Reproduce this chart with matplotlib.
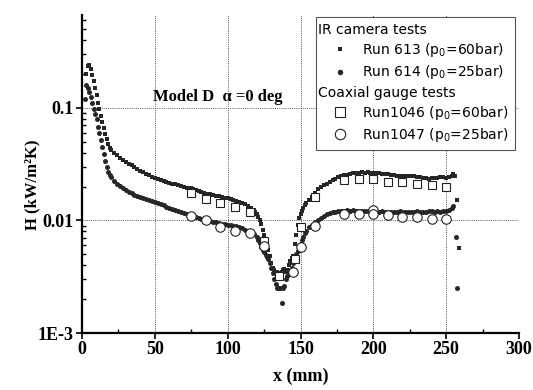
import matplotlib
matplotlib.use("Agg")
import matplotlib.pyplot as plt
from matplotlib.ticker import FixedLocator, LogLocator, NullFormatter, FixedFormatter

# ---------------- data ----------------
# IR camera, Run 613 (p0 = 60 bar)
x613 = [3, 4, 5, 6, 7, 8, 9, 10, 11, 12,
        13, 14, 15, 16, 17, 18, 19, 20, 22, 24,
        26, 28, 30, 32, 34, 36, 38, 40, 42, 44,
        46, 48, 50, 52, 54, 56, 58, 60, 62, 64,
        66, 68, 70, 72, 74, 75, 76, 78, 80, 82,
        84, 86, 88, 90, 92, 94, 96, 98, 100, 102,
        104, 106, 108, 110, 112, 114, 116, 118, 119, 120,
        121, 122, 123, 124, 125, 126, 127, 128, 129, 130,
        131, 132, 133, 134, 135, 136, 137, 138, 139, 140,
        141, 142, 143, 144, 145, 146, 147, 148, 149, 150,
        151, 152, 153, 154, 156, 158, 160, 162, 164, 166,
        168, 170, 172, 174, 176, 178, 180, 182, 184, 186,
        188, 190, 192, 194, 196, 198, 200, 202, 204, 206,
        208, 210, 212, 214, 216, 218, 220, 222, 224, 226,
        228, 230, 232, 234, 236, 238, 240, 242, 244, 246,
        248, 250, 252, 254, 255, 256, 257.5, 258.5]
h613 = [0.20, 0.235, 0.24, 0.22, 0.195, 0.175, 0.15, 0.13, 0.11, 0.098,
        0.085, 0.075, 0.066, 0.059, 0.053, 0.048, 0.044, 0.042, 0.040, 0.038,
        0.036, 0.0345, 0.033, 0.032, 0.031, 0.0298, 0.0285, 0.0275, 0.0267, 0.026,
        0.0252, 0.0245, 0.0238, 0.0233, 0.0228, 0.0224, 0.022, 0.0216, 0.0213, 0.021,
        0.0206, 0.0202, 0.0198, 0.0195, 0.0194, 0.0196, 0.0192, 0.0186, 0.0182, 0.0179,
        0.0176, 0.0173, 0.0171, 0.0168, 0.0166, 0.0164, 0.0162, 0.016, 0.0157, 0.0155,
        0.0152, 0.015, 0.0147, 0.0143, 0.014, 0.0135, 0.0129, 0.0124, 0.0120, 0.0115,
        0.0108, 0.0100, 0.0094, 0.0083, 0.0074, 0.0067, 0.0061, 0.0055, 0.0048, 0.0042,
        0.0038, 0.0036, 0.0035, 0.0035, 0.0034, 0.0034, 0.0035, 0.0036, 0.0037, 0.0035,
        0.0036, 0.0040, 0.0044, 0.0046, 0.0048, 0.0062, 0.0075, 0.0092, 0.0105, 0.0115,
        0.0122, 0.0130, 0.0137, 0.0143, 0.0152, 0.0163, 0.0175, 0.0190, 0.0197, 0.0205,
        0.0213, 0.0220, 0.0228, 0.0236, 0.0243, 0.0248, 0.0252, 0.0256, 0.0260, 0.0262,
        0.0264, 0.0266, 0.0267, 0.0266, 0.0267, 0.0265, 0.0266, 0.0265, 0.0263, 0.0261,
        0.0259, 0.0257, 0.0254, 0.0252, 0.0250, 0.0249, 0.0248, 0.0248, 0.0249, 0.0248,
        0.0246, 0.0244, 0.0241, 0.0239, 0.0237, 0.0236, 0.0237, 0.0238, 0.0240, 0.0242,
        0.0241, 0.0240, 0.0243, 0.0250, 0.0258, 0.0248, 0.0152, 0.0057]

# IR camera, Run 614 (p0 = 25 bar)
x614 = [2, 3, 4, 5, 6, 7, 8, 9, 10, 11,
        12, 13, 14, 15, 16, 17, 18, 19, 20, 22,
        24, 26, 28, 30, 32, 34, 36, 38, 40, 42,
        44, 46, 48, 50, 52, 54, 56, 58, 60, 62,
        64, 66, 68, 70, 72, 74, 75, 76, 78, 80,
        82, 84, 86, 88, 90, 92, 94, 96, 98, 100,
        102, 104, 106, 108, 110, 112, 114, 116, 118, 120,
        121, 122, 123, 124, 125, 126, 127, 128, 129, 130,
        131, 132, 133, 134, 135, 136, 137, 138, 139, 140,
        141, 142, 143, 144, 145, 146, 147, 148, 149, 150,
        151, 152, 153, 154, 156, 158, 160, 162, 164, 166,
        168, 170, 172, 174, 176, 178, 180, 182, 184, 186,
        188, 190, 192, 194, 196, 198, 200, 202, 204, 206,
        208, 210, 212, 214, 216, 218, 220, 222, 224, 226,
        228, 230, 232, 234, 236, 238, 240, 242, 244, 246,
        248, 250, 252, 254, 255, 257, 257.5]
h614 = [0.12, 0.16, 0.15, 0.14, 0.125, 0.11, 0.098, 0.088, 0.079, 0.068,
        0.060, 0.052, 0.045, 0.039, 0.034, 0.030, 0.027, 0.0252, 0.0242, 0.0225,
        0.0213, 0.0203, 0.0194, 0.0187, 0.0180, 0.0175, 0.0170, 0.0165, 0.0161, 0.0157,
        0.0154, 0.0151, 0.0148, 0.0145, 0.0142, 0.0139, 0.0136, 0.0133, 0.0130, 0.0127,
        0.0124, 0.0121, 0.0118, 0.0116, 0.0114, 0.0113, 0.0115, 0.0111, 0.0108, 0.0106,
        0.0104, 0.0102, 0.0100, 0.0099, 0.0097, 0.0096, 0.0095, 0.0094, 0.0093, 0.0092,
        0.0091, 0.0090, 0.0089, 0.0087, 0.0085, 0.0083, 0.0080, 0.0078, 0.0076, 0.0072,
        0.0067, 0.0063, 0.0058, 0.0055, 0.0052, 0.0049, 0.0047, 0.0045, 0.0042, 0.0038,
        0.0034, 0.0030, 0.0027, 0.0025, 0.0025, 0.0025, 0.00185, 0.0025, 0.0026, 0.0030,
        0.0032, 0.0034, 0.0036, 0.0038, 0.0042, 0.0046, 0.0050, 0.0054, 0.0058, 0.0062,
        0.0067, 0.0072, 0.0077, 0.0081, 0.0087, 0.0092, 0.0097, 0.0102, 0.0106, 0.0110,
        0.0114, 0.0117, 0.0119, 0.0120, 0.0121, 0.0122, 0.0122, 0.0123, 0.0122, 0.0123,
        0.0122, 0.0121, 0.0122, 0.0121, 0.0122, 0.0121, 0.0122, 0.0121, 0.0120, 0.0121,
        0.0120, 0.0119, 0.0120, 0.0119, 0.0120, 0.0121, 0.0120, 0.0119, 0.0120, 0.0119,
        0.0120, 0.0121, 0.0120, 0.0119, 0.0120, 0.0121, 0.0122, 0.0120, 0.0121, 0.0120,
        0.0121, 0.0122, 0.0124, 0.0130, 0.0134, 0.0072, 0.0025]

# Coaxial gauge, Run 1046 (p0 = 60 bar)
x1046 = [75, 85, 95, 105, 115, 125, 135, 146, 150.5, 160, 180, 190, 200, 210, 220, 230, 240, 250]
h1046 = [0.0177, 0.0154, 0.0142, 0.0133, 0.0120, 0.0066, 0.0032, 0.0045, 0.0088, 0.0163,
         0.0227, 0.0232, 0.0232, 0.0222, 0.0218, 0.0213, 0.0205, 0.0200]

# Coaxial gauge, Run 1047 (p0 = 25 bar)
x1047 = [75, 85, 95, 105, 115, 125, 145, 150.5, 160, 180, 190, 200, 200, 210, 220, 230, 240, 250]
h1047 = [0.0109, 0.0100, 0.0088, 0.0081, 0.0078, 0.0059, 0.0035, 0.0058, 0.0090, 0.0115,
         0.0115, 0.0125, 0.0115, 0.0113, 0.0108, 0.0108, 0.0104, 0.0104]

xticks = [0, 50, 100, 150, 200, 250, 300]
yticks = [1e-3, 1e-2, 1e-1]
ytick_labels = ["1E-3", "0.01", "0.1"]

legend_labels = ["IR camera tests",
                 "Run 613 (p$_0$=60bar)",
                 "Run 614 (p$_0$=25bar)",
                 "Coaxial gauge tests",
                 "Run1046 (p$_0$=60bar)",
                 "Run1047 (p$_0$=25bar)"]

# ---------------- figure ----------------
serif = "Liberation Serif"
fig = plt.figure(figsize=(5.33, 3.90), dpi=100)
ax = fig.add_axes([82 / 533, 1 - 333 / 390, 437 / 533, 318 / 390])

ir_color = "#262626"
h_613, = ax.plot(x613, h613, linestyle="none", marker="s", markersize=3.2,
                 color=ir_color, markeredgewidth=0)
h_614, = ax.plot(x614, h614, linestyle="none", marker="o", markersize=3.6,
                 color=ir_color, markeredgewidth=0)
h_1046, = ax.plot(x1046, h1046, linestyle="none", marker="s", markersize=6.0,
                  markerfacecolor="white", markeredgecolor="#222222", markeredgewidth=0.8)
h_1047, = ax.plot(x1047, h1047, linestyle="none", marker="o", markersize=6.8,
                  markerfacecolor="white", markeredgecolor="#222222", markeredgewidth=0.8)

ax.set_yscale("log")
ax.set_xlim(0, 300)
ax.set_ylim(1e-3, 0.67)

# grid lines (dotted) only at interior major ticks
for xv in xticks[1:-1]:
    ax.axvline(xv, color="#555555", linestyle=(0, (1, 1.2)), linewidth=0.7, zorder=0)
for yv in yticks[1:]:
    ax.axhline(yv, color="#555555", linestyle=(0, (1, 1.2)), linewidth=0.7, zorder=0)

ax.xaxis.set_major_locator(FixedLocator(xticks))
ax.xaxis.set_minor_locator(FixedLocator([25, 75, 125, 175, 225, 275]))
ax.yaxis.set_major_locator(FixedLocator(yticks))
ax.yaxis.set_major_formatter(FixedFormatter(ytick_labels))
ax.yaxis.set_minor_locator(LogLocator(base=10, subs=range(2, 10)))
ax.yaxis.set_minor_formatter(NullFormatter())

ax.tick_params(which="major", direction="out", length=4, width=1.2, pad=2)
ax.tick_params(which="minor", direction="in", length=3, width=1.0)
for lab in ax.get_xticklabels() + ax.get_yticklabels():
    lab.set_fontfamily(serif)
    lab.set_fontweight("bold")
    lab.set_fontsize(13)

ax.spines["top"].set_visible(False)
ax.spines["right"].set_visible(False)
ax.spines["left"].set_linewidth(1.6)
ax.spines["bottom"].set_linewidth(1.6)

ax.set_xlabel("x (mm)", fontfamily=serif, fontweight="bold", fontsize=13)
ax.xaxis.set_label_coords(0.5, -0.108)
ax.set_ylabel("H (kW/m²K)", fontfamily=serif, fontweight="bold", fontsize=12)
ax.yaxis.set_label_coords(-0.096, 0.465)

ax.text(48.7, 0.125, "Model D  α =0 deg", fontfamily=serif, fontweight="bold",
        fontsize=12, va="center", ha="left")

# legend with two group headers
blank1, = ax.plot([], [], linestyle="none", marker="none")
blank2, = ax.plot([], [], linestyle="none", marker="none")
leg = ax.legend([blank1, h_613, h_614, blank2, h_1046, h_1047], legend_labels,
                loc="upper right", bbox_to_anchor=(0.991, 0.994), borderaxespad=0,
                fancybox=False, framealpha=1, edgecolor="#555555",
                prop={"family": "DejaVu Sans", "size": 10},
                handlelength=2.5, handletextpad=0.4, borderpad=0.45,
                labelspacing=0.3, markerscale=1.1)
leg.get_frame().set_linewidth(0.8)
rows = leg._legend_handle_box.get_children()[0].get_children()
for i in (0, 3):
    rows[i].get_children()[0].set_width(-7)

fig.savefig("out.png", dpi=100)
